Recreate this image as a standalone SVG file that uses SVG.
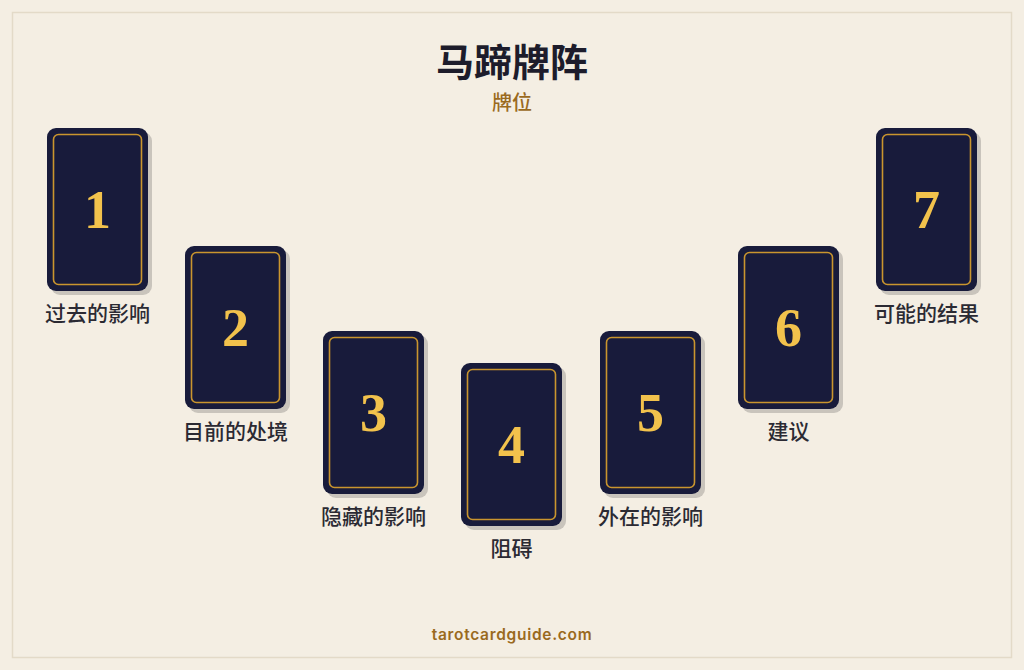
<svg xmlns="http://www.w3.org/2000/svg" width="1024" height="670" viewBox="0 0 1024 670">
<defs>
<style>
.shadow{fill:#c9c4bc}
.card{fill:#181b3b}
.inner{fill:none;stroke:#c9952e;stroke-width:1.6}
.num{font-family:"Liberation Serif","DejaVu Serif",serif;font-weight:bold;font-size:54px;fill:#f2c24c;text-anchor:middle}
.lbl{font-family:"Noto Sans CJK SC",sans-serif;font-weight:500;font-size:21px;fill:#2b2a33;text-anchor:middle}
</style>
<g id="cardshape">
<rect class="shadow" x="4" y="4" width="101" height="163" rx="9"/>
<rect class="card" x="0" y="0" width="101" height="163" rx="9"/>
<rect class="inner" x="6.5" y="6.5" width="88" height="150" rx="5"/>
</g>
</defs>
<rect x="0" y="0" width="1024" height="670" fill="#f4eee3"/>
<rect x="12.5" y="12.5" width="999" height="645" fill="none" stroke="#e3dac8" stroke-width="1.5"/>
<text x="512" y="76" font-family="Noto Sans CJK SC,sans-serif" font-weight="600" font-size="38" fill="#1d1c2b" text-anchor="middle">马蹄牌阵</text>
<text x="512" y="110" font-family="Noto Sans CJK SC,sans-serif" font-weight="500" font-size="20" fill="#9a6a1e" text-anchor="middle">牌位</text>
<g id="connectors"></g>
<g id="card1"><use href="#cardshape" x="47" y="128"/><text class="num" x="97.5" y="228">1</text><text class="lbl" x="97.5" y="321">过去的影响</text></g>
<g id="card2"><use href="#cardshape" x="185" y="246"/><text class="num" x="235.5" y="346">2</text><text class="lbl" x="235.5" y="439">目前的处境</text></g>
<g id="card3"><use href="#cardshape" x="323" y="331"/><text class="num" x="373.5" y="431">3</text><text class="lbl" x="373.5" y="524">隐藏的影响</text></g>
<g id="card4"><use href="#cardshape" x="461" y="363"/><text class="num" x="511.5" y="463">4</text><text class="lbl" x="511.5" y="556">阻碍</text></g>
<g id="card5"><use href="#cardshape" x="600" y="331"/><text class="num" x="650.5" y="431">5</text><text class="lbl" x="650.5" y="524">外在的影响</text></g>
<g id="card6"><use href="#cardshape" x="738" y="246"/><text class="num" x="788.5" y="346">6</text><text class="lbl" x="788.5" y="439">建议</text></g>
<g id="card7"><use href="#cardshape" x="876" y="128"/><text class="num" x="926.5" y="228">7</text><text class="lbl" x="926.5" y="321">可能的结果</text></g>
<text x="512" y="640" font-family="Inter,'Noto Sans',sans-serif" font-weight="600" font-size="15.5" letter-spacing="0.7" fill="#9a6a1e" text-anchor="middle">tarotcardguide.com</text>
</svg>
